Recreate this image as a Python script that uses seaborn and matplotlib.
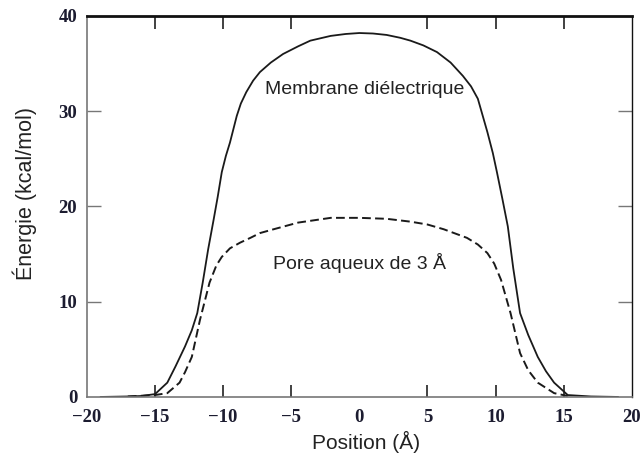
import numpy as np
import pandas as pd
import seaborn as sns
import matplotlib.pyplot as plt
from matplotlib.ticker import FixedLocator

# Membrane diélectrique (courbe pleine)
membrane_x = [-19, -17, -16, -15, -14.1, -13.5, -12.8, -12.3, -11.9, -11.5, -11.1, -10.7, -10.4,
              -10.1, -9.8, -9.5, -9.0, -8.7, -8.3, -7.8, -7.3, -6.5, -5.6, -4.5, -3.6, -2.1,
              -1.0, 0, 1.0, 2.0, 3.0, 3.75, 4.7, 5.7, 6.7, 7.6, 8.2, 8.7, 9.4, 9.8, 10.1,
              10.5, 10.9, 11.3, 11.8, 12.4, 13.1, 13.7, 14.3, 15.3, 17, 19]
membrane_y = [0, 0.05, 0.1, 0.3, 1.5, 3.2, 5.3, 7.0, 8.8, 12.0, 15.5, 18.6, 21.0,
              23.6, 25.3, 26.7, 29.5, 30.8, 32.0, 33.2, 34.1, 35.1, 36.0, 36.8, 37.4, 37.9,
              38.1, 38.2, 38.15, 38.0, 37.7, 37.4, 36.9, 36.2, 35.1, 33.7, 32.6, 31.3, 27.8, 25.6, 23.6,
              20.8, 17.9, 13.5, 8.8, 6.5, 4.2, 2.7, 1.5, 0.2, 0.05, 0]

# Pore aqueux de 3 Å (courbe tiretée)
pore_x = [-17, -15, -14.1, -13.2, -12.8, -12.3, -11.7, -11.0, -10.5, -10.1, -9.5, -8.75, -8.0,
          -7.3, -6.3, -4.5, -2.1, 0, 2.0, 3.75, 5.0, 6.2, 7.9, 8.7, 9.4, 9.9, 10.4, 11.1,
          11.8, 12.4, 13.1, 14.3, 15.3]
pore_y = [0.05, 0.2, 0.4, 1.5, 2.6, 4.2, 8.1, 12.0, 13.8, 14.7, 15.6, 16.2, 16.7,
          17.2, 17.6, 18.3, 18.8, 18.8, 18.7, 18.4, 18.1, 17.6, 16.7, 16.0, 15.1, 14.0, 12.3, 8.8,
          4.6, 2.8, 1.5, 0.4, 0.1]

x_ticks = [-20, -15, -10, -5, 0, 5, 10, 15, 20]
x_marks = [-15, -10, -5, 5, 10, 15]
y_ticks = [0, 10, 20, 30, 40]
y_marks = [10, 20, 30]

sns.set_style("white")
plt.rcParams['font.family'] = ['Liberation Sans', 'DejaVu Sans']

fig = plt.figure(figsize=(6.44, 4.67), dpi=100)
ax = fig.add_axes([0.135, 0.150, 0.846, 0.816])

sns.lineplot(x=membrane_x, y=membrane_y, ax=ax, color="#1a1a1a", linewidth=1.3, sort=False)
sns.lineplot(x=pore_x, y=pore_y, ax=ax, color="#1a1a1a", linewidth=1.4, sort=False)
ax.lines[-1].set_dashes((4.5, 2.2))

ax.set_xlim(-20, 20)
ax.set_ylim(0, 40)

# tick labels (serif, bold) without marks
ax.set_xticks(x_ticks)
ax.set_yticks(y_ticks)
ax.set_xticklabels(["\u221220", "\u221215", "\u221210", "\u22125", "0", "5", "10", "15", "20"])
for lab in ax.get_xticklabels() + ax.get_yticklabels():
    lab.set_family("Liberation Serif")
    lab.set_fontweight("bold")
    lab.set_fontsize(13.5)
    lab.set_color("#1c1c30")
ax.tick_params(axis="x", which="major", length=0, pad=9)
ax.tick_params(axis="y", which="major", length=0, pad=7)

# inward tick marks
ax.xaxis.remove_overlapping_locs = False
ax.yaxis.remove_overlapping_locs = False
ax.xaxis.set_minor_locator(FixedLocator(x_marks))
ax.yaxis.set_minor_locator(FixedLocator(y_marks))
ax.tick_params(axis="x", which="minor", direction="in", length=9, width=1.3,
               top=True, bottom=True, color="#333333")
ax.tick_params(axis="y", which="minor", direction="in", length=10, width=1.0,
               left=True, right=True, color="#777777")

for side in ["left", "bottom"]:
    ax.spines[side].set_color("#777777")
    ax.spines[side].set_linewidth(1.2)
ax.spines["top"].set_color("#111111")
ax.spines["top"].set_linewidth(2.0)
ax.spines["right"].set_color("#111111")
ax.spines["right"].set_linewidth(1.0)

ax.set_xlabel("Position (\u00c5)", fontsize=15, color="#222222")
ax.set_ylabel("\u00c9nergie (kcal/mol)", fontsize=15.5, color="#222222")
ax.xaxis.label.set_va("center")
ax.yaxis.label.set_va("center")
ax.xaxis.set_label_coords(0.512, -0.118)
ax.yaxis.set_label_coords(-0.114, 0.533)

ax.text(0.4, 32.3, "Membrane di\u00e9lectrique", ha="center", va="center",
        fontsize=14, color="#222222")
ax.text(0.0, 14.1, "Pore aqueux de 3 \u00c5", ha="center", va="center",
        fontsize=14, color="#222222")

fig.savefig("out.png", dpi=100)
